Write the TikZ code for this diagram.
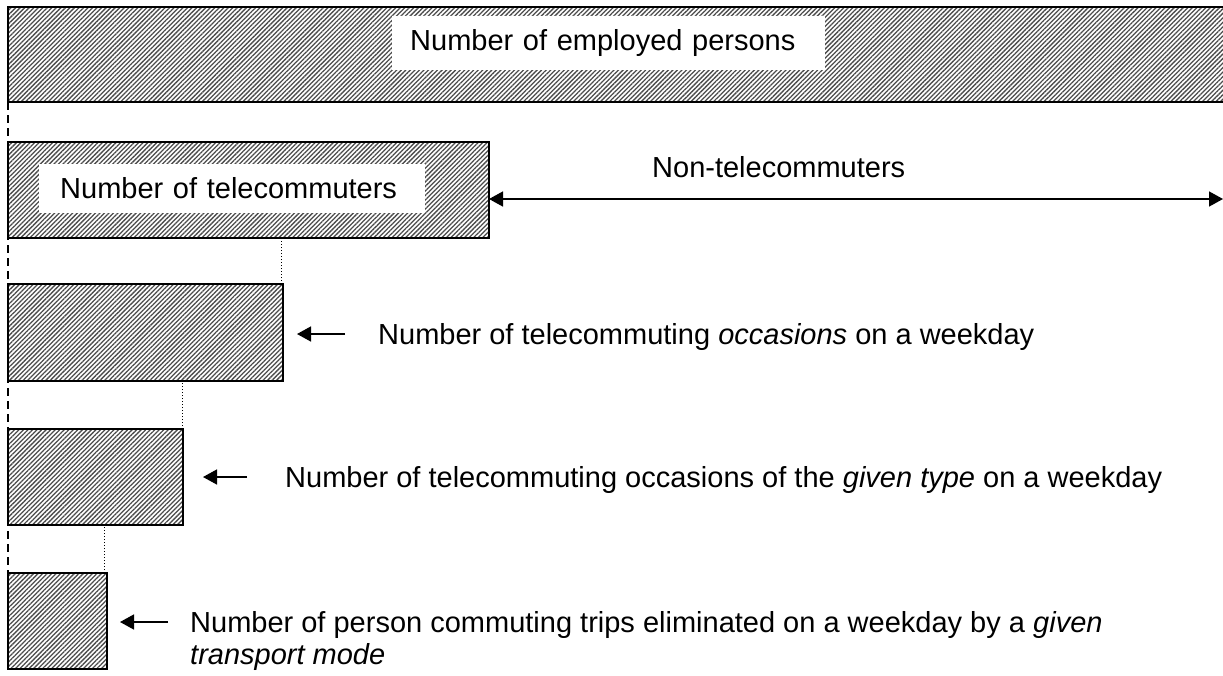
\documentclass[tikz,border=0pt]{standalone}
\usepackage{fontspec}
\setmainfont{Liberation Sans}
\usetikzlibrary{patterns.meta,arrows.meta}
\tikzset{
  hatchbox/.style={draw=black, line width=1.6pt, inner sep=0pt, outer sep=0pt, anchor=north west,
    preaction={fill=white},
    pattern={Lines[angle=45,distance=3.2pt,line width=1.3pt]}, pattern color=black!70},
  lbl/.style={font=\fontsize{29}{34}\selectfont, inner sep=0pt, anchor=base west},
  whitelbl/.style={font=\fontsize{29}{34}\selectfont, fill=white, anchor=west, inner ysep=0pt, align=left},
  guide/.style={line width=1.6pt, dash pattern=on 8pt off 5pt},
  dotline/.style={line width=0.8pt, dash pattern=on 1.5pt off 1.5pt},
  arr/.style={line width=1.5pt, -{Triangle[length=14pt,width=15pt]}},
  dbl/.style={line width=1.5pt, {Triangle[length=14pt,width=15pt]}-{Triangle[length=14pt,width=15pt]}}
}
\begin{document}
\begin{tikzpicture}[x=1pt,y=-1pt]
\useasboundingbox (0,0) rectangle (1223,675);
\clip (0,0) rectangle (1223,675);

% coordinates for the guides
\coordinate (g1) at (8,102);
\coordinate (g2) at (8,573);
\draw[guide] (g1) -- (g2);

% boxes
\node[hatchbox, line width=2pt, minimum width=1230pt, minimum height=95pt] (b1) at (8,7) {};
\node[hatchbox, minimum width=481pt, minimum height=96pt] (b2) at (8,142) {};
\node[hatchbox, minimum width=275pt, minimum height=97pt] (b3) at (8,284) {};
\node[hatchbox, minimum width=175pt, minimum height=96pt] (b4) at (8,429) {};
\node[hatchbox, minimum width=99pt, minimum height=96pt] (b5) at (8,573) {};

% labels inside boxes
\node[whitelbl, inner xsep=18pt, text width=397pt, minimum height=54pt] (t1) at (392,43) {Number of employed persons};
\node[whitelbl, inner xsep=21pt, text width=344pt, minimum height=49pt] (t2) at (39,188.5) {Number of telecommuters};

% dotted connectors
\draw[dotline] ([xshift=-2pt]b3.north east) -- ([xshift=-2pt]b3.north east |- b2.south);
\draw[dotline] ([xshift=-1pt]b4.north east) -- ([xshift=-1pt]b4.north east |- b3.south);
\draw[dotline] ([xshift=-3pt]b5.north east) -- ([xshift=-3pt]b5.north east |- b4.south);

% non-telecommuters
\coordinate (ntR) at (1223,199);
\draw[dbl] (b2.east |- ntR) -- (ntR);
\node[lbl] (nt) at (652,177) {Non-telecommuters};

% arrows and labels
\coordinate (a3s) at (345,334); \coordinate (a3e) at (297,334);
\draw[arr] (a3s) -- (a3e);
\node[lbl] (t3) at (378,344) {Number of telecommuting \textit{occasions} on a weekday};

\coordinate (a4s) at (247,477); \coordinate (a4e) at (203,477);
\draw[arr] (a4s) -- (a4e);
\node[lbl] (t4) at (285,487) {Number of telecommuting occasions of the \textit{given type} on a weekday};

\coordinate (a5s) at (168,622); \coordinate (a5e) at (120,622);
\draw[arr] (a5s) -- (a5e);
\node[lbl] (t5a) at (190,632) {Number of person commuting trips eliminated on a weekday by a \textit{given}};
\node[lbl] (t5b) at (190,664) {\textit{transport mode}};
\end{tikzpicture}
\end{document}
